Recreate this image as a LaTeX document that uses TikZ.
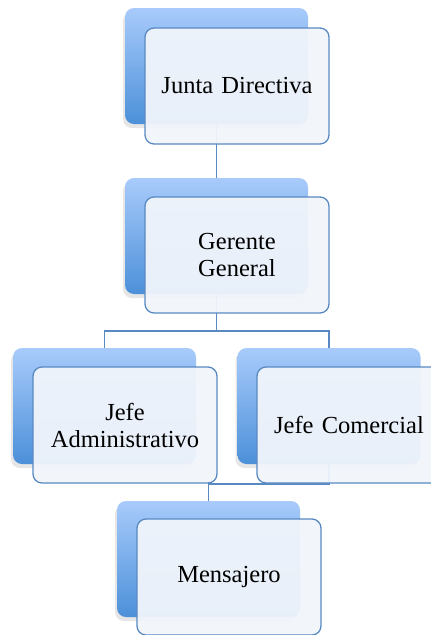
\documentclass[tikz,border=0pt]{standalone}
\usepackage{fontspec}
\setmainfont{Liberation Serif}[WordSpace=0.8]
\usetikzlibrary{shadows}
\definecolor{lblue}{RGB}{168,203,251}
\definecolor{dblue}{RGB}{76,144,217}
\definecolor{edge}{RGB}{88,137,194}
\definecolor{pale}{RGB}{241,245,251}
\tikzset{
  backbox/.style={rectangle, rounded corners=9pt, minimum width=183pt, minimum height=116pt,
    top color=lblue, bottom color=dblue, draw=none,
    drop shadow={shadow xshift=-2pt, shadow yshift=-4pt, opacity=0.2}},
  frontbox/.style={rectangle, rounded corners=9pt, minimum width=184pt, minimum height=116pt,
    draw=edge, line width=1.3pt, fill=pale, fill opacity=0.95, text opacity=1,
    align=center, font=\fontsize{24.5}{27}\selectfont, inner sep=2pt, text width=180pt},
  link/.style={draw=edge, line width=1.4pt}
}
\begin{document}
\begin{tikzpicture}[x=1pt,y=-1pt]
\useasboundingbox (0,0) rectangle (431,635);
% connector anchor coordinates (back boxes, defined first for drawing order)
\path (216.5,66) coordinate (jdc) (216.5,236) coordinate (ggc)
      (104.5,406) coordinate (jac) (329,406) coordinate (jcc) (208.5,559) coordinate (msc);
% connectors behind boxes
\draw[link] (jdc) -- (ggc);
\draw[link] (ggc) -- (216.5,331) coordinate (split) -| (jac);
\draw[link] (split) -| (jcc);
\draw[link] (jcc) -- (329,484) coordinate (bend) -| (msc);
% back boxes
\node[backbox] (jdb) at (jdc) {};
\node[backbox] (ggb) at (ggc) {};
\node[backbox] (jab) at (jac) {};
\node[backbox] (jcb) at (jcc) {};
\node[backbox] (msb) at (msc) {};
% front boxes
\node[frontbox] (jd) at (237,86) {Junta Directiva};
\node[frontbox] (gg) at (237,255) {Gerente\\General};
\node[frontbox] (ja) at (125,425) {Jefe\\Administrativo};
\node[frontbox] (jc) at (349,425) {Jefe Comercial};
\node[frontbox] (ms) at (229,577) {Mensajero};
\end{tikzpicture}
\end{document}
